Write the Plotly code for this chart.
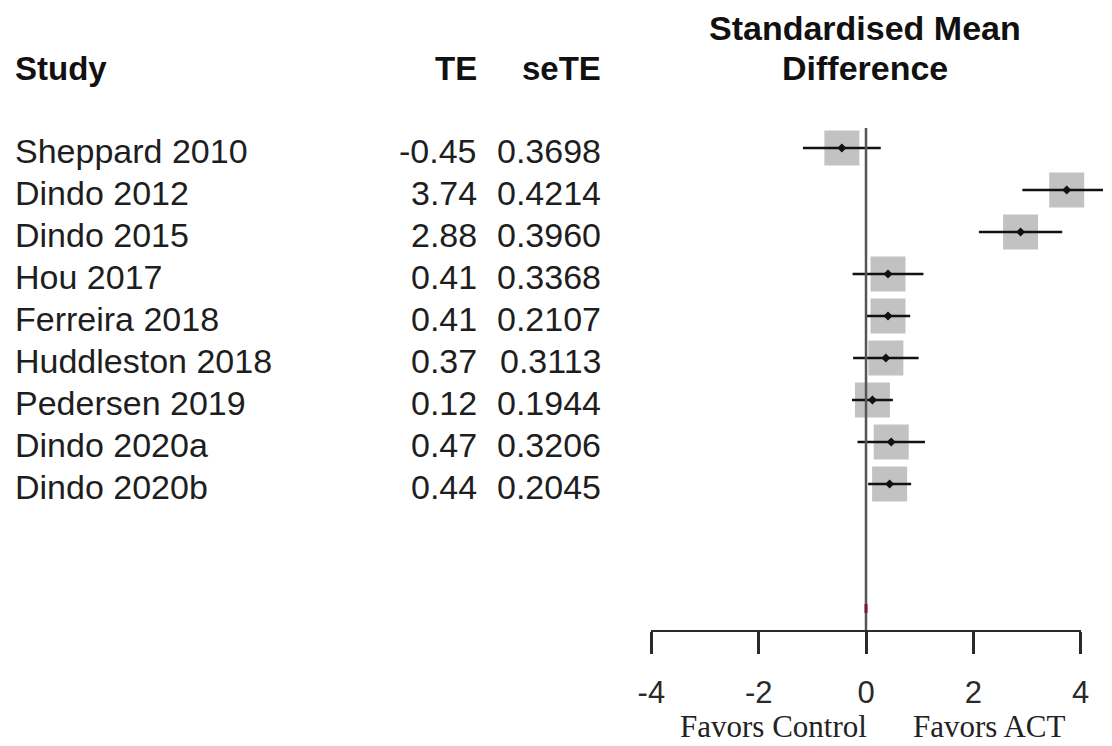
import plotly.graph_objects as go

studies = ["Sheppard 2010", "Dindo 2012", "Dindo 2015", "Hou 2017", "Ferreira 2018",
           "Huddleston 2018", "Pedersen 2019", "Dindo 2020a", "Dindo 2020b"]
te = [-0.45, 3.74, 2.88, 0.41, 0.41, 0.37, 0.12, 0.47, 0.44]
se_te = [0.3698, 0.4214, 0.3960, 0.3368, 0.2107, 0.3113, 0.1944, 0.3206, 0.2045]
tick_vals = [-4, -2, 0, 2, 4]
tick_text = ["-4", "-2", "0", "2", "4"]

W, H = 1112, 746
ZERO_PX, UNIT_PX = 870, 54.8
ROW0_PX, ROW_PX = 148, 42
AXIS_PX = 630

rows = list(range(len(studies)))
lo = [t - 1.96 * s for t, s in zip(te, se_te)]
hi = [t + 1.96 * s for t, s in zip(te, se_te)]

ci_x, ci_y = [], []
for i, a, b in zip(rows, lo, hi):
    ci_x += [a, b, None]
    ci_y += [i, i, None]

fig = go.Figure()
fig.add_trace(go.Scatter(x=te, y=rows, mode="markers", xaxis="x", yaxis="y",
                         marker=dict(symbol="square", size=35, color="#c2c2c2", line=dict(width=0)),
                         hoverinfo="skip", showlegend=False, cliponaxis=False))
fig.add_trace(go.Scatter(x=ci_x, y=ci_y, mode="lines", xaxis="x", yaxis="y",
                         line=dict(color="#111111", width=2.3),
                         hoverinfo="skip", showlegend=False))
fig.add_trace(go.Scatter(x=te, y=rows, mode="markers", xaxis="x", yaxis="y",
                         marker=dict(symbol="diamond", size=7, color="#111111"),
                         hoverinfo="skip", showlegend=False))
# invisible trace to show the tick axis
fig.add_trace(go.Scatter(x=tick_vals, y=[0] * len(tick_vals), mode="markers", xaxis="x2", yaxis="y2",
                         marker=dict(opacity=0), hoverinfo="skip", showlegend=False))

fig.update_layout(
    width=W, height=H,
    margin=dict(l=0, r=0, t=0, b=0),
    paper_bgcolor="white", plot_bgcolor="rgba(0,0,0,0)",
    xaxis=dict(domain=[0, 1], range=[-ZERO_PX / UNIT_PX, (W - ZERO_PX) / UNIT_PX],
               visible=False, fixedrange=True),
    yaxis=dict(domain=[0, 1], range=[(H - ROW0_PX) / ROW_PX, -ROW0_PX / ROW_PX],
               visible=False, fixedrange=True),
    xaxis2=dict(domain=[(ZERO_PX - 4 * UNIT_PX) / W, (ZERO_PX + 4 * UNIT_PX) / W],
                range=[-4, 4], anchor="y2", showline=True, linecolor="#2a2a2a", linewidth=2,
                ticks="outside", ticklen=22, tickwidth=2.5, tickcolor="#2a2a2a",
                tickvals=tick_vals, ticktext=tick_text, showgrid=False, zeroline=False,
                tickfont=dict(family="Liberation Sans", size=31, color="#2a2a2a"),
                ticklabelstandoff=12, fixedrange=True),
    yaxis2=dict(domain=[(H - AXIS_PX) / H, 1], range=[0, 1], visible=False, fixedrange=True),
    showlegend=False,
)

# reference line at 0
fig.add_shape(type="line", xref="x", yref="paper", x0=0, x1=0,
              y0=(H - 128) / H, y1=(H - AXIS_PX) / H,
              line=dict(color="#555555", width=2.5))
# small summary mark
fig.add_shape(type="line", xref="x", yref="paper", x0=0, x1=0,
              y0=(H - 604) / H, y1=(H - 613) / H,
              line=dict(color="#7a1a2a", width=3))

name_font = dict(family="Liberation Sans", size=34, color="#1e1e1e")
num_font = dict(family="Liberation Sans", size=34, color="#1e1e1e")
head_font = dict(family="Liberation Sans", size=33, color="#111111")

NAME_X, TE_X, SE_X, HEAD_C = -1, 475, 601, 869
for i, name, t, s in zip(rows, studies, te, se_te):
    fig.add_annotation(x=NAME_X / W, xref="paper", y=i, yref="y", text=name, showarrow=False,
                       xanchor="left", yanchor="middle", yshift=-3, font=name_font)
    fig.add_annotation(x=TE_X / W, xref="paper", y=i, yref="y", text=f"{t:.2f}", showarrow=False,
                       xanchor="right", yanchor="middle", yshift=-3, font=num_font)
    fig.add_annotation(x=SE_X / W, xref="paper", y=i, yref="y", text=f"{s:.4f}", showarrow=False,
                       xanchor="right", yanchor="middle", yshift=-3, font=num_font)

# headers
fig.add_annotation(x=NAME_X / W, xref="paper", y=1 - 68 / H, yref="paper", text="<b>Study</b>",
                   showarrow=False, xanchor="left", yanchor="middle", font=head_font)
fig.add_annotation(x=TE_X / W, xref="paper", y=1 - 68 / H, yref="paper", text="<b>TE</b>",
                   showarrow=False, xanchor="right", yanchor="middle", font=head_font)
fig.add_annotation(x=SE_X / W, xref="paper", y=1 - 68 / H, yref="paper", text="<b>seTE</b>",
                   showarrow=False, xanchor="right", yanchor="middle", font=head_font)
fig.add_annotation(x=HEAD_C / W, xref="paper", y=1 - 28 / H, yref="paper", text="<b>Standardised Mean</b>",
                   showarrow=False, xanchor="center", yanchor="middle",
                   font=dict(family="Liberation Sans", size=34, color="#111111"))
fig.add_annotation(x=HEAD_C / W, xref="paper", y=1 - 68 / H, yref="paper", text="<b>Difference</b>",
                   showarrow=False, xanchor="center", yanchor="middle",
                   font=dict(family="Liberation Sans", size=34, color="#111111"))

serif = dict(family="Liberation Serif", size=31, color="#222222")
fig.add_annotation(x=776 / W, xref="paper", y=0, yref="paper", text="Favors Control",
                   showarrow=False, xanchor="center", yanchor="bottom", font=serif)
fig.add_annotation(x=996 / W, xref="paper", y=0, yref="paper", text="Favors ACT",
                   showarrow=False, xanchor="center", yanchor="bottom", font=serif)

fig.write_html("out.html", config={"displayModeBar": False},
               post_script="document.body.style.margin='0';")
